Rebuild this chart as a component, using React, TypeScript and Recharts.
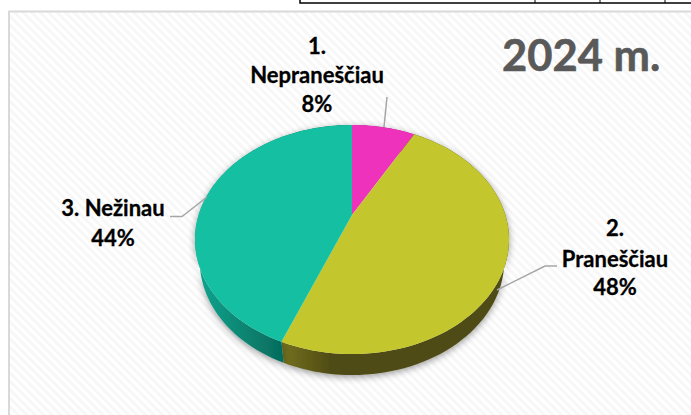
import { PieChart, Pie, Cell } from 'recharts'

const names = ['1. Nepraneščiau', '2. Praneščiau', '3. Nežinau']
const shares = [8, 48, 44]
const topColors = ['#ef32bb', '#c3c72d', '#15c0a2']
const wallColors = ['#8a1c6c', 'url(#wallOlive)', 'url(#wallTeal)']

// label blocks and their leader lines, page coordinates
const labelLines = [
  [['1.', 317, 54], ['Nepraneščiau', 317, 83], ['8%', 317, 112]],
  [['2.', 615, 236], ['Praneščiau', 615, 267], ['48%', 615, 295]],
  [['3. Nežinau', 113, 216], ['44%', 113, 246]],
] as [string, number, number][][]
const leaders = [
  '387,97 384,127',
  '497,290 545,266 557,266',
  '170,216.5 182,216.5 207,197',
]

// the pie is photographed in perspective: circle -> projective map
const TILT = -0.214
const SQUASH = 0.7125
const WALL = 21

function project(cx: number, cy: number, r: number, deg: number, scale = 1, drop = 0) {
  const a = (deg * Math.PI) / 180
  const u = Math.cos(a)
  const v = -Math.sin(a)
  const w = 1 + TILT * v
  return [cx + (scale * r * u) / w, cy + (r * SQUASH * v) / w + drop]
}

function arcPoints(p: any, scale = 1, drop = 0) {
  const pts = []
  const n = Math.max(4, Math.ceil(Math.abs(p.endAngle - p.startAngle) / 2))
  for (let i = 0; i <= n; i++) {
    const deg = p.startAngle + ((p.endAngle - p.startAngle) * i) / n
    pts.push(project(p.cx, p.cy, p.outerRadius, deg, scale, drop))
  }
  return pts
}

function toPath(pts: number[][]) {
  return pts.map((q, i) => `${i ? 'L' : 'M'}${q[0].toFixed(2)},${q[1].toFixed(2)}`).join('') + 'Z'
}

function TopSlice(p: any) {
  return <path d={toPath([[p.cx, p.cy], ...arcPoints(p)])} fill={p.fill} stroke="none" />
}

function WallSlice(p: any) {
  const top = arcPoints(p)
  const bottom = arcPoints(p, 0.97, WALL).reverse()
  return <path d={toPath([...top, ...bottom])} fill={p.fill} stroke="none" filter="url(#pieShadow)" />
}

function SliceLabel(p: any) {
  return (
    <g>
      {labelLines[p.index].map(([text, x, y]) => (
        <text
          key={text}
          x={x}
          y={y}
          textAnchor="middle"
          fontFamily="Lato, sans-serif"
          fontWeight={700}
          fontSize={22}
          fill="#000"
          stroke="#000"
          strokeWidth={0.3}
        >
          {text}
        </text>
      ))}
    </g>
  )
}

function LeaderLine(p: any) {
  return <polyline points={leaders[p.index]} fill="none" stroke="#a6a6a6" strokeWidth={1.5} />
}

export default function App() {
  const data = names.map((name, i) => ({ name, value: shares[i] }))

  return (
    <div style={{ position: 'absolute', left: 0, top: 0, width: 691, height: 415, background: '#fff' }}>
      <PieChart width={691} height={415} margin={{ top: 0, right: 0, bottom: 0, left: 0 }}>
        <defs>
          <pattern id="hatch" width="6" height="6" patternUnits="userSpaceOnUse" patternTransform="rotate(-45)">
            <rect width="6" height="6" fill="#ffffff" />
            <rect width="3" height="6" fill="#f7f7f7" />
          </pattern>
          <linearGradient id="wallTeal" gradientUnits="userSpaceOnUse" x1="205" y1="0" x2="285" y2="0">
            <stop offset="0" stopColor="#0f9f89" />
            <stop offset="1" stopColor="#056a5b" />
          </linearGradient>
          <linearGradient id="wallOlive" gradientUnits="userSpaceOnUse" x1="283" y1="0" x2="330" y2="0">
            <stop offset="0" stopColor="#747020" />
            <stop offset="1" stopColor="#504c13" />
          </linearGradient>
          <filter id="pieShadow" x="-20%" y="-20%" width="140%" height="150%">
            <feDropShadow dx="0" dy="2" stdDeviation="3.5" floodColor="#000" floodOpacity="0.4" />
          </filter>
        </defs>
        <rect x={0} y={0} width={691} height={415} fill="#fff" />
        <rect x={9} y={11.5} width={690} height={410} fill="url(#hatch)" stroke="#d9d9d9" strokeWidth={2} />
        <polyline points="300,0 300,3 691,3" fill="none" stroke="#000" strokeWidth={1.5} />
        <line x1={535} y1={0} x2={535} y2={3} stroke="#000" />
        <line x1={600} y1={0} x2={600} y2={3} stroke="#000" />
        <line x1={665} y1={0} x2={665} y2={3} stroke="#000" />
        <text x={502} y={71} fontFamily="Lato, sans-serif" fontWeight={700} fontSize={43.5} fill="#595959" stroke="#595959" strokeWidth={0.6}>
          2024 m.
        </text>
        <Pie
          data={data}
          dataKey="value"
          nameKey="name"
          cx={352}
          cy={215}
          outerRadius={153.4}
          startAngle={90}
          endAngle={-270}
          stroke="none"
          shape={WallSlice}
          isAnimationActive={false}
        >
          {data.map((_, i) => (
            <Cell key={i} fill={wallColors[i]} />
          ))}
        </Pie>
        <Pie
          data={data}
          dataKey="value"
          nameKey="name"
          cx={352}
          cy={215}
          outerRadius={153.4}
          startAngle={90}
          endAngle={-270}
          stroke="none"
          shape={TopSlice}
          label={SliceLabel}
          labelLine={LeaderLine}
          isAnimationActive={false}
        >
          {data.map((_, i) => (
            <Cell key={i} fill={topColors[i]} />
          ))}
        </Pie>
      </PieChart>
    </div>
  )
}
